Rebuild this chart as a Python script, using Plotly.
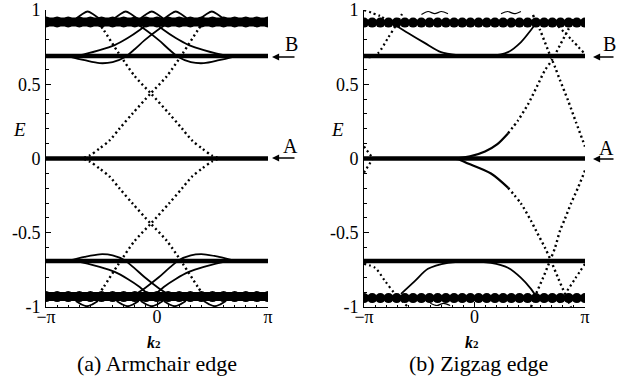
import plotly.graph_objects as go

# ---------------- data (k2 in units of pi, energy E) ----------------
arm_flat_E = [0.0, 0.69, -0.69]
arm_band_E = [0.92, -0.93]
arm_band_k = [-1.0, -0.9, -0.8, -0.7, -0.6, -0.5, -0.4, -0.3, -0.2, -0.1, 0.0,
              0.1, 0.2, 0.3, 0.4, 0.5, 0.6, 0.7, 0.8, 0.9, 1.0]

arm_P_k = [-0.79, -0.679, -0.607, -0.517, -0.427, -0.336, -0.219, -0.056, 0.088, 0.233, 0.368, 0.431]
arm_P_E = [0.0, 0.0, 0.020, 0.068, 0.122, 0.203, 0.304, 0.439, 0.554, 0.709, 0.865, 0.932]
arm_Q_k = [0.68, 0.567, 0.495, 0.405, 0.315, 0.224, 0.107, -0.056, -0.200, -0.345, -0.480, -0.543]
arm_Q_E = [0.0, 0.0, 0.020, 0.068, 0.122, 0.203, 0.304, 0.439, 0.554, 0.709, 0.865, 0.932]
arm_Pl_k = [-0.79, -0.679, -0.607, -0.517, -0.427, -0.336, -0.219, -0.056, 0.088, 0.233, 0.368, 0.431]
arm_Pl_E = [0.0, 0.0, -0.020, -0.068, -0.122, -0.203, -0.304, -0.439, -0.554, -0.709, -0.865, -0.935]
arm_Ql_k = [0.68, 0.567, 0.495, 0.405, 0.315, 0.224, 0.107, -0.056, -0.200, -0.345, -0.480, -0.543]
arm_Ql_E = [0.0, 0.0, -0.020, -0.068, -0.122, -0.203, -0.304, -0.439, -0.554, -0.709, -0.865, -0.935]

arm_C1_k = [-0.860, -0.698, -0.517, -0.381, -0.264, -0.156, -0.065]
arm_C1_E = [0.690, 0.696, 0.730, 0.764, 0.811, 0.865, 0.919]
arm_C1R_k = [0.765, 0.603, 0.422, 0.287, 0.169, 0.061, -0.029]
arm_C1R_E = [0.690, 0.696, 0.730, 0.764, 0.811, 0.865, 0.919]
arm_C2_k = [-0.806, -0.652, -0.517, -0.400, -0.291, -0.201, -0.111, 0.007, 0.142]
arm_C2_E = [0.690, 0.662, 0.642, 0.649, 0.682, 0.736, 0.797, 0.865, 0.932]
arm_C2R_k = [0.711, 0.558, 0.422, 0.305, 0.196, 0.106, 0.016, -0.101, -0.237]
arm_C2R_E = [0.690, 0.662, 0.642, 0.649, 0.682, 0.736, 0.797, 0.865, 0.932]
arm_C1l_k = [-0.860, -0.698, -0.517, -0.381, -0.264, -0.156, -0.065]
arm_C1l_E = [-0.690, -0.696, -0.730, -0.764, -0.811, -0.865, -0.925]
arm_C1Rl_k = [0.765, 0.603, 0.422, 0.287, 0.169, 0.061, -0.029]
arm_C1Rl_E = [-0.690, -0.696, -0.730, -0.764, -0.811, -0.865, -0.925]
arm_C2l_k = [-0.806, -0.652, -0.517, -0.400, -0.291, -0.201, -0.111, 0.007, 0.142]
arm_C2l_E = [-0.690, -0.662, -0.645, -0.652, -0.685, -0.740, -0.800, -0.868, -0.935]
arm_C2Rl_k = [0.711, 0.558, 0.422, 0.305, 0.196, 0.106, 0.016, -0.101, -0.237]
arm_C2Rl_E = [-0.690, -0.662, -0.645, -0.652, -0.685, -0.740, -0.800, -0.868, -0.935]

arm_hump_k = [[-0.725, -0.675, -0.625, -0.575, -0.525],
              [-0.382, -0.332, -0.282, -0.232, -0.182],
              [-0.147, -0.097, -0.047, 0.003, 0.053],
              [0.069, 0.119, 0.169, 0.219, 0.269],
              [0.394, 0.444, 0.494, 0.544, 0.594]]
arm_hump_E = [0.945, 0.972, 0.99, 0.972, 0.945]
arm_valley_k = [[-0.732, -0.682, -0.632, -0.582, -0.532],
                [-0.364, -0.314, -0.264, -0.214, -0.164],
                [-0.147, -0.097, -0.047, 0.003, 0.053],
                [0.060, 0.110, 0.160, 0.210, 0.260],
                [0.421, 0.471, 0.521, 0.571, 0.621]]
arm_valley_E = [-0.96, -0.982, -0.995, -0.982, -0.96]

zig_flat_E = [0.0, 0.69, -0.69]
zig_band_E = [0.915, -0.94]
zig_blob_k = [-1.0, -0.926, -0.852, -0.778, -0.704, -0.630, -0.556, -0.481, -0.407, -0.333,
              -0.259, -0.185, -0.111, -0.037, 0.037, 0.111, 0.185, 0.259, 0.333, 0.407,
              0.481, 0.556, 0.630, 0.704, 0.778, 0.852, 0.926, 1.0]

zig_rise_k = [-0.25, -0.176, -0.041, 0.095, 0.204, 0.303, 0.394, 0.484, 0.566, 0.638, 0.701, 0.774, 0.846, 0.900]
zig_rise_E = [0.0, 0.0, 0.014, 0.047, 0.095, 0.169, 0.257, 0.365, 0.486, 0.595, 0.662, 0.764, 0.865, 0.946]
zig_fall_k = [-0.267, -0.150, -0.059, 0.149, 0.303, 0.421, 0.511, 0.557, 0.638, 0.692, 0.756, 0.819, 0.873]
zig_fall_E = [0.0, -0.005, -0.034, -0.101, -0.196, -0.304, -0.419, -0.486, -0.601, -0.689, -0.804, -0.912, -1.0]
zig_D1_k = [0.529, 0.593, 0.665, 0.729, 0.774, 0.846, 0.919, 1.0]
zig_D1_E = [0.966, 0.865, 0.730, 0.615, 0.527, 0.392, 0.243, 0.081]
zig_D2_k = [0.511, 0.557, 0.620, 0.683, 0.729, 0.774, 0.819, 0.873, 0.937, 1.0]
zig_D2_E = [-1.0, -0.912, -0.804, -0.689, -0.601, -0.486, -0.405, -0.304, -0.196, -0.081]
zig_U_k = [-1.0, -0.855, -0.719, -0.602, -0.448, -0.303, -0.149, 0.005, 0.149, 0.303, 0.421, 0.511, 0.557]
zig_U_E = [1.0, 0.959, 0.899, 0.845, 0.777, 0.716, 0.696, 0.690, 0.690, 0.716, 0.784, 0.865, 0.912]
zig_arch_k = [-0.665, -0.538, -0.421, -0.240, -0.041, 0.149, 0.303, 0.421, 0.511, 0.566]
zig_arch_E = [-0.912, -0.824, -0.743, -0.703, -0.692, -0.703, -0.736, -0.804, -0.878, -0.939]
zig_ledge_k = [-1.0, -0.946, -0.873, -0.783, -0.710, -0.656]
zig_ledge_E = [0.696, 0.682, 0.709, 0.811, 0.899, 0.973]
zig_ledgel_k = [-1.0, -0.900, -0.810, -0.719, -0.602]
zig_ledgel_E = [-0.709, -0.736, -0.824, -0.912, -1.0]
zig_redge_k = [0.756, 0.882, 1.0]
zig_redge_E = [0.892, 0.797, 0.703]
zig_redgel_k = [1.0, 0.91, 0.819, 0.756]
zig_redgel_E = [-0.709, -0.81, -0.912, -0.973]
zig_zero_up_k = [-1.0, -0.919]
zig_zero_up_E = [0.081, 0.0]
zig_zero_dn_k = [-1.0, -0.919]
zig_zero_dn_E = [-0.095, 0.0]
zig_wig_k = [[-0.48, -0.42, -0.36, -0.30, -0.24], [0.24, 0.30, 0.36, 0.42], [-0.40, -0.34, -0.28, -0.22]]
zig_wig_E = [[0.97, 0.99, 0.975, 0.99, 0.975], [0.975, 0.99, 0.975, 0.99], [-0.975, -0.99, -0.975, -0.99]]

y_tickvals = [-1, -0.5, 0, 0.5, 1]
y_ticktext = ["-1", "-0.5", "0", "0.5", "1"]
x_tickvals = [-1, 0, 1]
x_ticktext = ["\u2212\u03c0", "0", "\u03c0"]
minor_vals = [-0.9, -0.8, -0.7, -0.6, -0.4, -0.3, -0.2, -0.1, 0.1, 0.2, 0.3, 0.4, 0.6, 0.7, 0.8, 0.9]

# ---------------- figure ----------------
fig = go.Figure()
BLACK = "black"
DOT = "2px,3px"


def add(ax, k, E, width=2.0, dash=None, mode="lines", marker=None):
    line = dict(color=BLACK, width=width, shape="spline", smoothing=0.8)
    if dash:
        line["dash"] = dash
    tr = go.Scatter(x=k, y=E, mode=mode, line=line, hoverinfo="skip",
                    showlegend=False, xaxis="x" if ax == 1 else "x2",
                    yaxis="y" if ax == 1 else "y2")
    if marker:
        tr.marker = marker
    fig.add_trace(tr)


# panel (a)
for e in arm_flat_E:
    add(1, [-1, 1], [e, e], width=4.5)
for e in arm_band_E:
    add(1, arm_band_k, [e] * len(arm_band_k), width=9, mode="lines+markers",
        marker=dict(size=11, color=BLACK))
for k, E in [(arm_P_k, arm_P_E), (arm_Q_k, arm_Q_E), (arm_Pl_k, arm_Pl_E), (arm_Ql_k, arm_Ql_E)]:
    add(1, k, E, width=2.4, dash=DOT)
for k, E in [(arm_C1_k, arm_C1_E), (arm_C1R_k, arm_C1R_E), (arm_C2_k, arm_C2_E), (arm_C2R_k, arm_C2R_E),
             (arm_C1l_k, arm_C1l_E), (arm_C1Rl_k, arm_C1Rl_E), (arm_C2l_k, arm_C2l_E), (arm_C2Rl_k, arm_C2Rl_E)]:
    add(1, k, E, width=1.8)
for k in arm_hump_k:
    add(1, k, arm_hump_E, width=1.8)
for k in arm_valley_k:
    add(1, k, arm_valley_E, width=1.8)

# panel (b)
for e in zig_flat_E:
    add(2, [-1, 1], [e, e], width=4.5)
for e in zig_band_E:
    add(2, zig_blob_k, [e] * len(zig_blob_k), width=5, mode="lines+markers",
        marker=dict(size=10, color=BLACK))
add(2, zig_rise_k[:6], zig_rise_E[:6], width=2.2)
add(2, zig_rise_k[5:], zig_rise_E[5:], width=2.4, dash=DOT)
add(2, zig_fall_k[:5], zig_fall_E[:5], width=2.2)
add(2, zig_fall_k[4:], zig_fall_E[4:], width=2.4, dash=DOT)
add(2, zig_D1_k, zig_D1_E, width=2.4, dash=DOT)
add(2, zig_D2_k, zig_D2_E, width=2.4, dash=DOT)
add(2, zig_U_k[:3], zig_U_E[:3], width=2.2, dash=DOT)
add(2, zig_U_k[2:], zig_U_E[2:], width=1.8)
add(2, zig_arch_k, zig_arch_E, width=1.8)
add(2, zig_ledge_k, zig_ledge_E, width=2.2, dash=DOT)
add(2, zig_ledgel_k, zig_ledgel_E, width=2.2, dash=DOT)
add(2, zig_redge_k, zig_redge_E, width=2.2, dash=DOT)
add(2, zig_redgel_k, zig_redgel_E, width=2.2, dash=DOT)
add(2, zig_zero_up_k, zig_zero_up_E, width=2.2, dash=DOT)
add(2, zig_zero_dn_k, zig_zero_dn_E, width=2.2, dash=DOT)
for k, E in zip(zig_wig_k, zig_wig_E):
    add(2, k, E, width=1.2)

# body margin is removed by the post script, so the figure starts at (0, 0)
W, H = 637, 381
FONT = "Times New Roman, Liberation Serif, serif"
tickfont = dict(family=FONT, size=18, color=BLACK)


def fx(x):
    return x / W


def fy(y):
    return 1 - y / H


def yaxis_style():
    return dict(range=[-1, 1], domain=[fy(307), fy(10)], tickmode="array",
                tickvals=y_tickvals, ticktext=y_ticktext, ticks="inside", ticklen=5,
                tickcolor=BLACK, showline=True, linecolor=BLACK, linewidth=1,
                showgrid=False, zeroline=False, tickfont=tickfont, automargin=False,
                ticklabelstandoff=1, ticklabeloverflow="allow",
                minor=dict(tickvals=minor_vals, ticks="inside", ticklen=2.5, tickcolor=BLACK))


def xaxis_style(dom):
    return dict(range=[-1, 1], domain=dom, tickmode="array", tickvals=x_tickvals,
                ticktext=x_ticktext, ticks="inside", ticklen=5, tickcolor=BLACK,
                showline=True, linecolor=BLACK, linewidth=1, showgrid=False,
                zeroline=False, tickfont=tickfont, automargin=False,
                ticklabelstandoff=-7, ticklabeloverflow="allow",
                minor=dict(tickvals=minor_vals, ticks="inside", ticklen=2.5, tickcolor=BLACK))


fig.update_layout(
    width=W, height=H, margin=dict(l=0, r=0, t=0, b=0, autoexpand=False),
    paper_bgcolor="white", plot_bgcolor="white",
    xaxis=dict(**xaxis_style([fx(46), fx(268)]), anchor="y"),
    yaxis=dict(**yaxis_style(), anchor="x"),
    xaxis2=dict(**xaxis_style([fx(364), fx(585)]), anchor="y2"),
    yaxis2=dict(**yaxis_style(), anchor="x2"),
)


def px_text(x, y, text, size, **kw):
    fig.add_annotation(x=fx(x), y=fy(y), xref="paper", yref="paper", text=text,
                       showarrow=False, font=dict(family=FONT, size=size, color=BLACK),
                       xanchor="center", yanchor="middle", borderpad=0, **kw)


def px_arrow(x_tip, y, length):
    fig.add_annotation(x=fx(x_tip), y=fy(y), xref="paper", yref="paper", text="",
                       showarrow=True, ax=length, ay=0, arrowhead=2, arrowsize=1.1,
                       arrowwidth=1.3, arrowcolor=BLACK)


px_text(19, 129, "<i>E</i>", 19)
px_text(337, 129, "<i>E</i>", 19)
px_text(154, 342, "<b><i>k</i><span style='font-size:11px'>2</span></b>", 16)
px_text(472, 342, "<b><i>k</i><span style='font-size:11px'>2</span></b>", 16)
px_text(157, 363, "(a) Armchair edge", 22)
px_text(478, 363, "(b) Zigzag edge", 22)
px_text(291, 44, "B", 20)
px_text(290, 146, "A", 20)
px_text(609, 44, "B", 20)
px_text(606, 148, "A", 20)
px_arrow(272, 57, 24)
px_arrow(272, 158, 24)
px_arrow(593, 57, 22)
px_arrow(593, 159, 22)

fig.write_html("out.html",
               config={"displayModeBar": False, "staticPlot": True},
               post_script="document.body.style.margin='0';document.body.style.overflow='hidden';")
